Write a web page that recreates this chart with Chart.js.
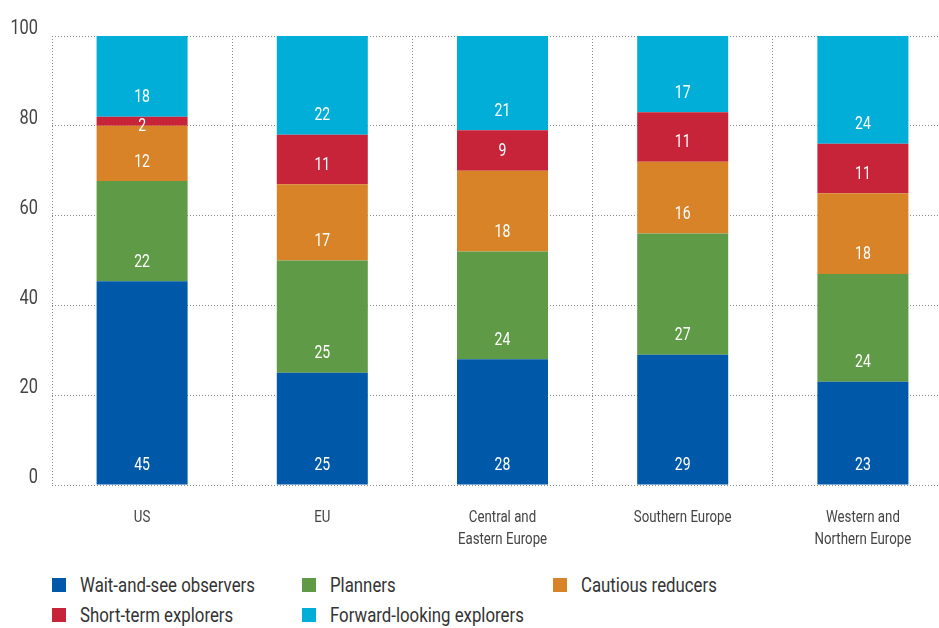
<!DOCTYPE html>
<html>
<head>
<meta charset="utf-8">
<script src="https://cdn.jsdelivr.net/npm/chart.js@4/dist/chart.umd.min.js"></script>
<style>
  html, body { margin: 0; padding: 0; background: #fff; overflow: hidden; }
  #wrap { position: relative; width: 939px; height: 628px; overflow: hidden; }
  #box { position: absolute; left: 0; top: 0; width: 955px; height: 560px; }
  #legend { position: absolute; left: 0; top: 572px; width: 939px;
    font-family: Roboto, sans-serif; font-size: 21px; color: #333; }
  .item { position: absolute; white-space: nowrap; line-height: 26px; }
  .item span.sw { position: absolute; left: 0; top: 6px; width: 14px; height: 14px; }
  .item span.tx { position: absolute; left: 28px; top: 0; display: inline-block;
    transform: scaleX(0.8); transform-origin: 0 0; }
</style>
</head>
<body>
<div id="wrap">
  <div id="box"><canvas id="chart"></canvas></div>
  <div id="legend"></div>
</div>
<script>
// 数据
const categories = ['US', 'EU', ['Central and', 'Eastern Europe'], 'Southern Europe', ['Western and', 'Northern Europe']];
const seriesNames = ['Wait-and-see observers', 'Planners', 'Cautious reducers', 'Short-term explorers', 'Forward-looking explorers'];
const waitAndSee = [45.4, 25, 28, 29, 23];
const planners = [22.3, 25, 24, 27, 24];
const cautious = [12.3, 17, 18, 16, 18];
const shortTerm = [2, 11, 9, 11, 11];
const forwardLooking = [18, 22, 21, 17, 24];
const yTicks = [0, 20, 40, 60, 80, 100];

const colors = ['#0059A8', '#5F9A46', '#D88328', '#C7243A', '#00AED8'];
const FONT = 'Roboto, sans-serif';
const SQUEEZE = 0.78; // 模拟窄体字

const values = [waitAndSee, planners, cautious, shortTerm, forwardLooking];
const datasets = values.map((data, i) => ({
    label: seriesNames[i],
    data: data,
    backgroundColor: colors[i],
    borderWidth: 0,
    barPercentage: 1,
    categoryPercentage: 0.505
}));

// 画压窄的文字
function narrowText(ctx, text, x, y) {
    ctx.save();
    ctx.translate(x, y);
    ctx.scale(SQUEEZE, 1);
    ctx.fillText(text, 0, 0);
    ctx.restore();
}

// 段内数值标签
const segmentLabels = {
    id: 'segmentLabels',
    afterDatasetsDraw(chart) {
        const ctx = chart.ctx;
        ctx.save();
        ctx.fillStyle = '#fff';
        ctx.font = '18px ' + FONT;
        ctx.textAlign = 'center';
        ctx.textBaseline = 'middle';
        chart.data.datasets.forEach((ds, di) => {
            const meta = chart.getDatasetMeta(di);
            meta.data.forEach((bar, i) => {
                const h = bar.base - bar.y;
                const y = h > 24 ? bar.base - 19 : bar.base + 1;
                narrowText(ctx, String(Math.round(ds.data[i])), bar.x, y);
            });
        });
        ctx.restore();
    }
};

// 坐标轴文字
const axisLabels = {
    id: 'axisLabels',
    afterDraw(chart) {
        const ctx = chart.ctx;
        const xs = chart.scales.x;
        const ys = chart.scales.y;
        ctx.save();
        ctx.fillStyle = '#444';
        ctx.textBaseline = 'middle';
        ctx.textAlign = 'center';
        ctx.font = '17px ' + FONT;
        categories.forEach((lab, i) => {
            const lines = Array.isArray(lab) ? lab : [lab];
            const x = xs.getPixelForValue(i);
            lines.forEach((line, j) => narrowText(ctx, line, x, xs.top + 33 + j * 22));
        });
        ctx.textAlign = 'right';
        ctx.font = '21px ' + FONT;
        yTicks.forEach(v => narrowText(ctx, String(v), ys.right - 14, ys.getPixelForValue(v) - 7));
        ctx.restore();
    }
};

new Chart(document.getElementById('chart'), {
    type: 'bar',
    data: { labels: categories, datasets: datasets },
    options: {
        responsive: true,
        maintainAspectRatio: false,
        animation: false,
        layout: { padding: { top: 36, right: 2, left: 0, bottom: 0 } },
        plugins: {
            legend: { display: false },
            tooltip: { enabled: false }
        },
        scales: {
            x: {
                stacked: true,
                grid: { color: '#888', drawTicks: false, offset: true },
                border: { display: false, dash: [1, 2] },
                ticks: { display: false },
                afterFit(scale) { scale.height = 75; }
            },
            y: {
                stacked: true,
                min: 0,
                max: 100,
                afterBuildTicks(scale) { scale.ticks = yTicks.map(v => ({ value: v })); },
                grid: { color: '#888', drawTicks: false },
                border: { display: false, dash: [1, 2] },
                ticks: { display: false },
                afterFit(scale) { scale.width = 52; }
            }
        }
    },
    plugins: [segmentLabels, axisLabels]
});

// 图例
const legendPos = [[52, 0], [302, 0], [553, 0], [52, 30], [302, 30]];
const legend = document.getElementById('legend');
seriesNames.forEach((name, i) => {
    const item = document.createElement('div');
    item.className = 'item';
    item.style.left = legendPos[i][0] + 'px';
    item.style.top = legendPos[i][1] + 'px';
    item.innerHTML = '<span class="sw" style="background:' + colors[i] + '"></span><span class="tx"></span>';
    item.querySelector('.tx').textContent = name;
    legend.appendChild(item);
});
</script>
</body>
</html>
